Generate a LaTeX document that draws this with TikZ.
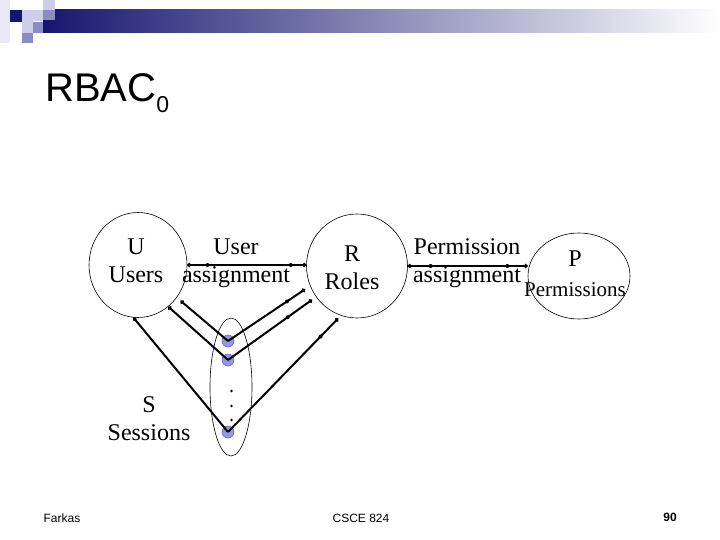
\documentclass[tikz,border=0pt]{standalone}
\usepackage{fontspec}
\setmainfont{Liberation Serif}
\newfontfamily\arialfont{Liberation Sans}
\usepackage{xcolor}
\usetikzlibrary{arrows.meta,positioning,shapes.geometric,decorations.markings}
\definecolor{navy}{RGB}{22,22,112}
\definecolor{lav}{RGB}{206,206,232}
\definecolor{lavmid}{RGB}{140,140,196}
\definecolor{barmid}{RGB}{165,165,198}
\definecolor{sessfill}{RGB}{150,150,232}
\definecolor{sessline}{RGB}{105,105,190}

\begin{document}
\begin{tikzpicture}[x=1pt,y=-1pt,
  set/.style={draw,ellipse,line width=0.6pt,inner sep=0pt},
  lbl/.style={align=center,inner sep=0pt,font=\fontsize{24}{28}\selectfont},
  sess/.style={circle,draw=sessline,fill=sessfill,line width=0.6pt,minimum size=12pt,inner sep=0pt},
  link/.style={line width=2pt},
  tipend/.style={link,-{Circle[length=4pt]}},
  tipboth/.style={link,{Circle[length=4pt]}-{Circle[length=4pt]}},
  midtick/.style={postaction={decorate,decoration={markings,mark=at position #1 with {\fill (0,0) circle (2pt);}}}},
  foot/.style={inner sep=0pt,anchor=base,font=\arialfont\fontsize{12}{14}\selectfont}]
\useasboundingbox (0,0) rectangle (720,540);
\fill[white] (0,0) rectangle (720,540);
% header bar
\fill[lav!45] (0,0) rectangle (10,43);
\shade[left color=navy,middle color=barmid,right color=white] (43,10) rectangle (720,33);
\fill[navy] (10,10) rectangle (22,22);
\fill[lav] (22,10) rectangle (33,22);
\fill[lav] (33,10) rectangle (43,21);
\fill[lav] (43,0) rectangle (55,10);
\fill[lavmid] (43,10) rectangle (55,20);
\fill[lav] (22,22) rectangle (33,33);
\fill[lavmid] (33,22) rectangle (43,33);
\fill[lavmid] (22,33) rectangle (33,43);
\node[anchor=base west,inner sep=0pt,font=\arialfont\fontsize{40}{44}\selectfont] (title) at (45,102) {RBAC\raisebox{-11pt}{\fontsize{23}{24}\selectfont 0}};

% sets
\node[set,minimum width=98pt,minimum height=105pt] (users) at (138,265) {};
\node[set,minimum width=101pt,minimum height=104pt] (roles) at (357,266) {};
\node[set,minimum width=102pt,minimum height=86pt] (perms) at (579,276) {};
\node[set,minimum width=42pt,minimum height=138pt] (sessions) at (231,387) {};
\node[lbl] (utxt) at (136,261) {U\\Users};
\node[lbl] (rtxt) at (352,268) {R\\Roles};
\node[lbl] (ptxt) at (575,274) {P\\[2pt]{\fontsize{21}{24}\selectfont Permissions}};
\node[lbl] (uatxt) at (236,263.5) {User\\assignment};
\node[lbl] (patxt) at (467,263.5) {Permission\\assignment};
\node[lbl] (stxt) at (149,419) {S\\Sessions};

% sessions
\node[sess] (s1) at (228,341) {};
\node[sess] (s2) at (228,360) {};
\node[sess] (s3) at (228,432) {};
\foreach \y in {391,406,420}
  \fill (231.5,\y) circle (1.4pt);

% assignments
\draw[tipboth,midtick=0.17,midtick=0.87] (users.east) -- (users.east -| roles.west);
\draw[tipboth,midtick=0.19,midtick=0.83] (roles.east) -- (roles.east -| perms.west);
\draw[tipend,shorten >=5pt] (s1.center) -- (users.-40);
\draw[tipend] (s2.center) -- (users.-54);
\draw[tipend] (s3.center) -- (users.-95);
\draw[tipend,shorten >=6pt,midtick=0.72] (s1.center) -- (roles.203);
\draw[tipend,shorten >=5pt,midtick=0.68] (s2.center) -- (roles.217);
\draw[tipend,shorten >=4pt,midtick=0.82] (s3.center) -- (roles.252);

% footer
\node[foot] (author) at (62,522) {Farkas};
\node[foot] (course) at (361,522) {CSCE 824};
\node[foot,font=\arialfont\bfseries\fontsize{12}{14}\selectfont] (page) at (670,521) {90};
\end{tikzpicture}
\end{document}
